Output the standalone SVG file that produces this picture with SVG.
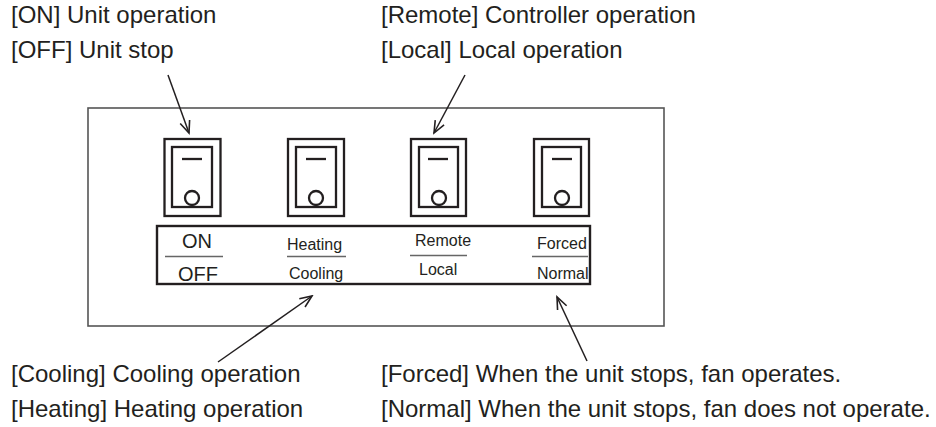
<svg xmlns="http://www.w3.org/2000/svg" width="936" height="427" viewBox="0 0 936 427">
<style>
  text { font-family: "Liberation Sans", Arial, sans-serif; fill: #231f20; }
  .big { font-size: 24px; }
  .lbl { font-size: 16px; }
  .lbl2 { font-size: 20px; }
  .panel { fill: none; stroke: #555; stroke-width: 1.6; }
  .sw { fill: none; stroke: #231f20; stroke-width: 2.3; }
  .box { fill: none; stroke: #231f20; stroke-width: 2.4; }
  .div { stroke: #666; stroke-width: 1.6; }
  .conn { fill: none; stroke: #231f20; stroke-width: 1.5; marker-end: url(#ah); }
</style>
<defs>
  <marker id="ah" markerUnits="userSpaceOnUse" markerWidth="16" markerHeight="16" viewBox="-14 -8 16 16" refX="0" refY="0" orient="auto">
    <path d="M-12,-5 L0,0 L-12,5" fill="none" stroke="#231f20" stroke-width="1.6"/>
  </marker>
</defs>
<rect width="936" height="427" fill="#fff"/>
<g id="panel">
  <rect class="panel" x="88" y="108" width="576" height="218"/>
</g>
<g id="switch-1">
  <rect class="sw" x="164.5" y="139" width="56" height="77"/>
  <rect class="sw" x="172" y="147" width="40" height="60"/>
  <line class="sw" x1="182" y1="159" x2="202" y2="159"/>
  <circle class="sw" cx="192" cy="198" r="7"/>
</g>
<g id="switch-2">
  <rect class="sw" x="288" y="139" width="56" height="77"/>
  <rect class="sw" x="296" y="147" width="40" height="60"/>
  <line class="sw" x1="306" y1="159" x2="326" y2="159"/>
  <circle class="sw" cx="316" cy="198" r="7"/>
</g>
<g id="switch-3">
  <rect class="sw" x="411" y="139" width="55" height="77"/>
  <rect class="sw" x="419" y="147" width="39" height="60"/>
  <line class="sw" x1="428" y1="159" x2="448" y2="159"/>
  <circle class="sw" cx="439" cy="198" r="7"/>
</g>
<g id="switch-4">
  <rect class="sw" x="534" y="139" width="55" height="77"/>
  <rect class="sw" x="542" y="147" width="39" height="60"/>
  <line class="sw" x1="552" y1="159" x2="572" y2="159"/>
  <circle class="sw" cx="562" cy="198" r="7"/>
</g>
<g id="label-box">
  <rect class="box" x="157" y="226" width="433" height="58"/>
  <text class="lbl2" x="182" y="248">ON</text>
  <line class="div" x1="165" y1="256.5" x2="223" y2="256.5"/>
  <text class="lbl2" x="178" y="281">OFF</text>
  <text class="lbl" x="287" y="250">Heating</text>
  <line class="div" x1="287" y1="256.5" x2="346" y2="256.5"/>
  <text class="lbl" x="289" y="279">Cooling</text>
  <text class="lbl" x="415" y="246">Remote</text>
  <line class="div" x1="410" y1="255.5" x2="467" y2="255.5"/>
  <text class="lbl" x="419" y="275">Local</text>
  <text class="lbl" x="537" y="249">Forced</text>
  <line class="div" x1="532" y1="256.5" x2="588" y2="256.5"/>
  <text class="lbl" x="537" y="279">Normal</text>
</g>
<g id="note-onoff">
  <text class="big" x="11" y="23">[ON] Unit operation</text>
  <text class="big" x="11" y="58">[OFF] Unit stop</text>
</g>
<g id="note-remote">
  <text class="big" x="381" y="23">[Remote] Controller operation</text>
  <text class="big" x="381" y="58">[Local] Local operation</text>
</g>
<g id="note-cooling">
  <text class="big" x="11" y="382">[Cooling] Cooling operation</text>
  <text class="big" x="11" y="417">[Heating] Heating operation</text>
</g>
<g id="note-forced">
  <text class="big" x="381" y="382">[Forced] When the unit stops, fan operates.</text>
  <text class="big" x="381" y="417">[Normal] When the unit stops, fan does not operate.</text>
</g>
<g id="connectors">
  <line class="conn" x1="168" y1="75" x2="189" y2="133"/>
  <line class="conn" x1="465" y1="75" x2="434" y2="133"/>
  <line class="conn" x1="218" y1="362" x2="312" y2="296"/>
  <line class="conn" x1="587" y1="361" x2="557" y2="297"/>
</g>
</svg>
